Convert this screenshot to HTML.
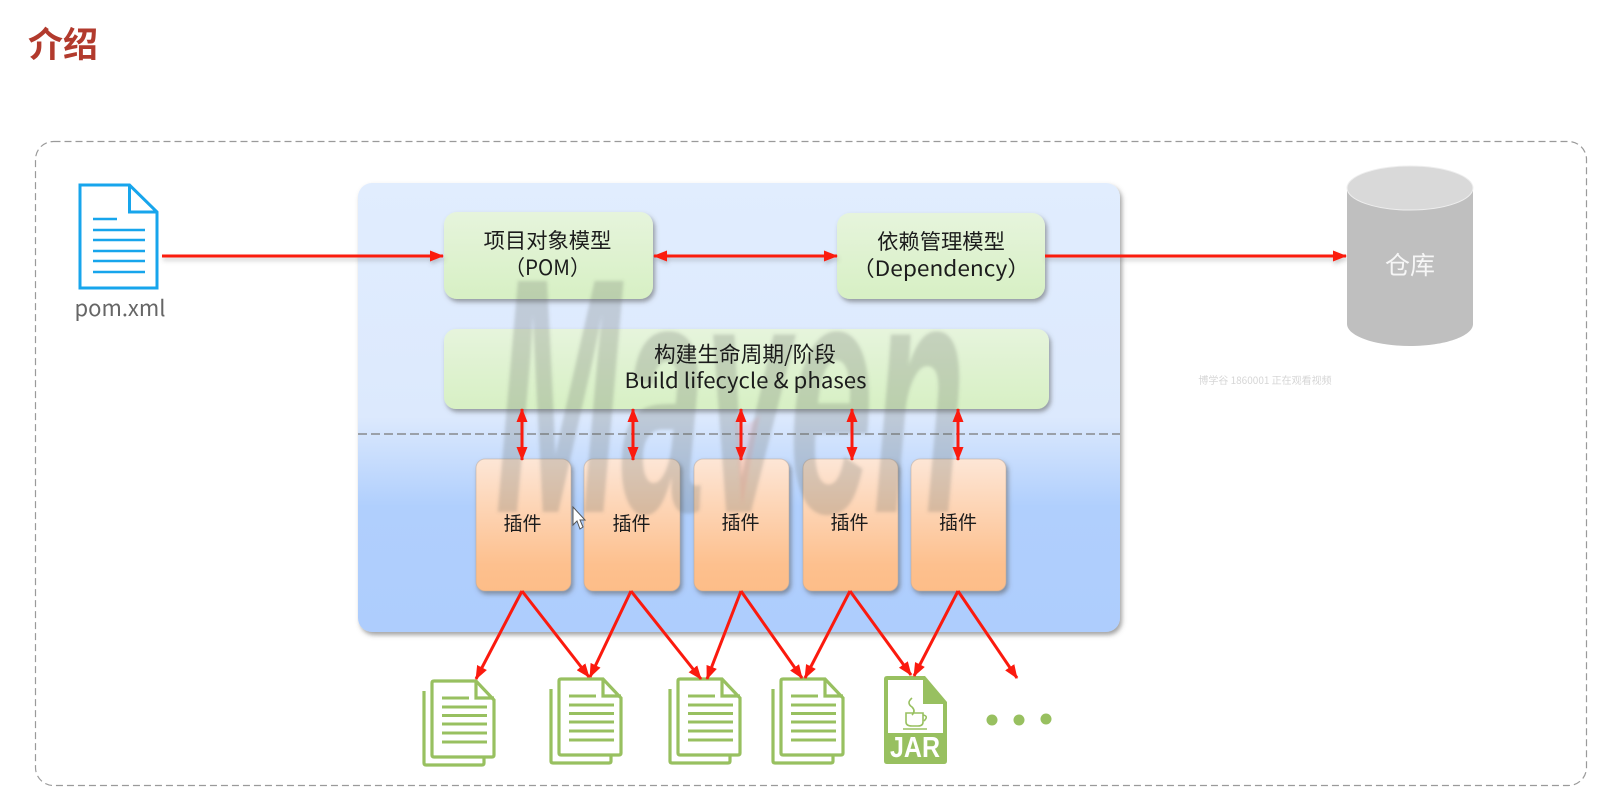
<!DOCTYPE html>
<html><head><meta charset="utf-8"><style>
html,body{margin:0;padding:0;background:#fff;width:1619px;height:796px;overflow:hidden}
svg{display:block}
text{font-family:"Noto Sans CJK SC","Liberation Sans",sans-serif}
</style></head><body>
<svg width="1619" height="796" viewBox="0 0 1619 796" xmlns="http://www.w3.org/2000/svg">
<defs>
<linearGradient id="pan" x1="0" y1="0" x2="0" y2="1"><stop offset="0" stop-color="#e1edfe"/><stop offset=".52" stop-color="#dce9fd"/><stop offset=".72" stop-color="#b0cffd"/><stop offset="1" stop-color="#aecdfd"/></linearGradient>
<linearGradient id="gr" x1="0" y1="0" x2="0" y2="1"><stop offset="0" stop-color="#e6f4dc"/><stop offset="1" stop-color="#d7f0c4"/></linearGradient>
<linearGradient id="or" x1="0" y1="0" x2="0" y2="1"><stop offset="0" stop-color="#fde6d6"/><stop offset=".8" stop-color="#fdc08e"/><stop offset="1" stop-color="#fdbd88"/></linearGradient>
<filter id="sh" x="-10%" y="-10%" width="120%" height="125%"><feDropShadow dx="2" dy="3" stdDeviation="2.5" flood-color="#555" flood-opacity=".55"/></filter>
<filter id="ls" filterUnits="userSpaceOnUse" x="0" y="0" width="1619" height="796"><feDropShadow dx="1" dy="3" stdDeviation="2" flood-color="#555" flood-opacity=".3"/></filter>
<filter id="bl" filterUnits="userSpaceOnUse" x="0" y="0" width="1619" height="796"><feGaussianBlur stdDeviation="1.6"/></filter>
<marker id="a" viewBox="0 0 14 11" refX="13" refY="5.500" markerWidth="14" markerHeight="11" markerUnits="userSpaceOnUse" orient="auto-start-reverse"><path d="M0 0L14 5.500L0 11Z" fill="#fb1a0e"/></marker>
<g id="doc" fill="none" stroke="#98c060" stroke-width="3.200">
<path d="M2 12V84Q2 86 4 86H60Q62 86 62 84V78" fill="#fff"/>
<path d="M10 4Q10 2 12 2H54L72 21V76Q72 78 70 78H12Q10 78 10 76Z" fill="#fff"/>
<path d="M54 2V19H72"/>
<path d="M20 19H47M20 28H65M20 36.500H65M20 45H65M20 54H65M20 63H65" stroke-width="3"/>
</g>
</defs>

<text x="28" y="57" font-size="35" font-weight="700" fill="#b23a2d">介绍</text>
<rect x="35.500" y="141.500" width="1551" height="644" rx="18" fill="none" stroke="#9a9a9a" stroke-width="1.200" stroke-dasharray="7 4"/>

<!-- pom icon -->
<g fill="none" stroke="#17a5ec" stroke-width="3">
<path d="M80 185H129.500L157 212V288H80Z"/><path d="M129.500 185V212H157"/>
<path d="M93 219H117M93 230H145M93 240H145M93 251H145M93 261H145M93 272H145" stroke-width="2.600"/>
</g>
<text x="120" y="316" font-size="22" fill="#666" text-anchor="middle" textLength="91" lengthAdjust="spacingAndGlyphs">pom.xml</text>

<!-- panel -->
<rect x="358" y="183" width="762" height="449" rx="14" fill="url(#pan)" filter="url(#sh)"/>

<!-- boxes -->
<rect x="444" y="212" width="209" height="87" rx="13" fill="url(#gr)" filter="url(#sh)"/>
<rect x="837" y="213" width="208" height="86" rx="13" fill="url(#gr)" filter="url(#sh)"/>
<rect x="444" y="329" width="605" height="80" rx="12" fill="url(#gr)" filter="url(#sh)"/>

<g filter="url(#ls)">
<line x1="162" y1="256" x2="443" y2="256" stroke="#fb1a0e" stroke-width="3" marker-end="url(#a)"/>
<line x1="654" y1="256" x2="837" y2="256" stroke="#fb1a0e" stroke-width="3" marker-start="url(#a)" marker-end="url(#a)"/>
<line x1="1045" y1="256" x2="1346" y2="256" stroke="#fb1a0e" stroke-width="3" marker-end="url(#a)"/>
</g>

<line x1="358" y1="434" x2="1120" y2="434" stroke="#777" stroke-width="1.300" stroke-dasharray="9 4"/>

<g fill="url(#or)" filter="url(#sh)" stroke="#b9a89a" stroke-opacity=".5" stroke-width="1">
<rect x="476" y="459" width="95" height="132" rx="9"/>
<rect x="584" y="459" width="96" height="132" rx="9"/>
<rect x="694" y="459" width="95" height="132" rx="9"/>
<rect x="803" y="459" width="95" height="132" rx="9"/>
<rect x="911" y="459" width="95" height="132" rx="9"/>
</g>

<!-- Maven watermark -->
<g filter="url(#bl)">
<g transform="translate(495,512) scale(.45,1)">
<text x="0" y="0" font-size="336" font-weight="700" font-style="italic" fill="#5c6460" opacity=".24" style="font-family:'Liberation Sans',sans-serif">Maven</text>
</g>
<path d="M735 420L742 505L760 415Q745 430 735 420Z" fill="#e8756a" opacity=".15"/>
</g>

<!-- vertical arrows -->
<g stroke="#fb1a0e" stroke-width="3" marker-start="url(#a)" marker-end="url(#a)">
<line x1="522" y1="409" x2="522" y2="460"/>
<line x1="633" y1="409" x2="633" y2="460"/>
<line x1="741" y1="409" x2="741" y2="460"/>
<line x1="852" y1="409" x2="852" y2="460"/>
<line x1="958" y1="409" x2="958" y2="460"/>
</g>

<!-- docs -->
<use href="#doc" x="422" y="679"/>
<use href="#doc" x="549" y="677"/>
<use href="#doc" x="668" y="677"/>
<use href="#doc" x="771" y="677"/>

<!-- jar -->
<path d="M887 676H925L947 702V761Q947 764 944 764H887Q884 764 884 761V679Q884 676 887 676Z" fill="#98c060"/>
<path d="M888 680H923V704H943V733H888Z" fill="#fff"/>
<text x="915" y="757" font-size="29" font-weight="700" fill="#fff" text-anchor="middle" textLength="50" lengthAdjust="spacingAndGlyphs" style="font-family:'Liberation Sans',sans-serif">JAR</text>
<g fill="none" stroke="#98c060" stroke-width="1.600">
<path d="M912 698Q906 703 912 707Q916 711 912 715"/>
<path d="M906 713V722Q906 726 912 726H918Q923 726 923 722V713Z"/>
<path d="M923 715Q929 716 924 721M903 729H927"/>
</g>
<circle cx="992" cy="720" r="5.500" fill="#98c060"/><circle cx="1019" cy="720" r="5.500" fill="#98c060"/><circle cx="1046" cy="719" r="5.500" fill="#98c060"/>

<!-- fan arrows -->
<g stroke="#fb1a0e" stroke-width="3" marker-end="url(#a)">
<line x1="522" y1="591" x2="476" y2="679"/>
<line x1="522" y1="591" x2="589" y2="677"/>
<line x1="631" y1="591" x2="590" y2="677"/>
<line x1="631" y1="591" x2="701" y2="679"/>
<line x1="741" y1="591" x2="707" y2="679"/>
<line x1="741" y1="591" x2="802" y2="678"/>
<line x1="850" y1="591" x2="805" y2="678"/>
<line x1="850" y1="591" x2="911" y2="675"/>
<line x1="958" y1="591" x2="914" y2="676"/>
<line x1="958" y1="591" x2="1017" y2="678"/>
</g>

<!-- cylinder -->
<path d="M1347 188V324C1347 336 1375 346 1410 346C1445 346 1473 336 1473 324V188Z" fill="#bfbfbf"/>
<ellipse cx="1410" cy="188" rx="63" ry="22" fill="#d9d9d9" stroke="#eee" stroke-width="1"/>
<text x="1410" y="274" font-size="25" fill="#f6f6f6" text-anchor="middle">仓库</text>
<text x="1265" y="384" font-size="10" fill="#d6d6d6" text-anchor="middle">博学谷 1860001 正在观看视频</text>

<!-- labels -->
<g fill="#1c1c1c" text-anchor="middle">
<text x="547.500" y="248" font-size="21.300">项目对象模型</text>
<text x="547.500" y="275" font-size="21" textLength="86" lengthAdjust="spacingAndGlyphs">（POM）</text>
<text x="941" y="249" font-size="21.300">依赖管理模型</text>
<text x="941" y="276" font-size="21" textLength="178" lengthAdjust="spacingAndGlyphs">（Dependency）</text>
<text x="745" y="362" font-size="21.700">构建生命周期/阶段</text>
<text x="745.500" y="388" font-size="21" textLength="242" lengthAdjust="spacingAndGlyphs">Build lifecycle &amp; phases</text>
<text x="522.500" y="530" font-size="19">插件</text>
<text x="631.500" y="530" font-size="19">插件</text>
<text x="740.500" y="529" font-size="19">插件</text>
<text x="849.500" y="529" font-size="19">插件</text>
<text x="958" y="529" font-size="19">插件</text>
</g>

<!-- cursor -->
<path d="M573 507V525L577 521L580 529L583 527L580 520H585Z" fill="#fff" stroke="#555" stroke-width="1"/>
</svg>
</body></html>
